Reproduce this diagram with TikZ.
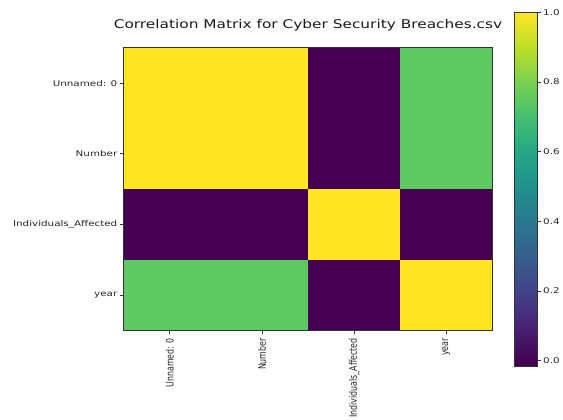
\documentclass[tikz,border=0pt]{standalone}
\usepackage{fontspec}
\setmainfont{DejaVu Sans}
\newfontfamily\widefont[FakeStretch=1.31]{DejaVu Sans}
\newfontfamily\titlefont[FakeStretch=1.28]{DejaVu Sans}

\definecolor{vhi}{HTML}{FDE725}
\definecolor{vlo}{HTML}{440154}
\definecolor{vmid}{RGB}{94,201,98}
\definecolor{vA}{HTML}{440154}
\definecolor{vB}{HTML}{482475}
\definecolor{vC}{HTML}{414487}
\definecolor{vD}{HTML}{355F8D}
\definecolor{vE}{HTML}{2A788E}
\definecolor{vF}{HTML}{21918C}
\definecolor{vG}{HTML}{22A884}
\definecolor{vH}{HTML}{44BF70}
\definecolor{vI}{HTML}{7AD151}
\definecolor{vJ}{HTML}{BDDF26}
\definecolor{vK}{HTML}{FDE725}
\pgfdeclareverticalshading{viridis}{100bp}{color(0bp)=(vA); color(25bp)=(vA);
  color(30bp)=(vB); color(35bp)=(vC); color(40bp)=(vD); color(45bp)=(vE);
  color(50bp)=(vF); color(55bp)=(vG); color(60bp)=(vH); color(65bp)=(vI);
  color(70bp)=(vJ); color(75bp)=(vK); color(100bp)=(vK)}

\begin{document}
\begin{tikzpicture}[x=1pt,y=-1pt,
  frame/.style={draw=black!80,line width=0.8pt},
  tickmark/.style={black!80,line width=0.8pt},
  ticklabel/.style={font=\widefont\fontsize{7.9}{9}\selectfont,text=black!85,inner sep=0pt},
  vlabel/.style={font=\fontsize{7.9}{9}\selectfont,text=black!85,inner sep=0pt,xscale=1.31,rotate=90,anchor=east}]
 \useasboundingbox (0,0) rectangle (563,420);

 \node[font=\titlefont\fontsize{12}{14}\selectfont,text=black!90,anchor=base,inner sep=0pt] (title) at (308,29)
  {Correlation Matrix for Cyber Security Breaches.csv};

 % matrix cells
 \foreach \row [count=\r from 0] in {{vhi,vhi,vlo,vmid},{vhi,vhi,vlo,vmid},{vlo,vlo,vhi,vlo},{vmid,vmid,vlo,vhi}} {
  \foreach \c [count=\k from 0] in \row {
   \fill[\c] (123.7+\k*92.15,47.7+\r*70.75) rectangle ++(92.15,70.75);
  }
 }
 \draw[frame] (123.7,47.7) rectangle (492.3,330.7);

 % ticks and labels
 \foreach \lbl [count=\i from 0] in {Unnamed: 0,Number,Individuals\_Affected,year} {
  \draw[tickmark] (123.7,83.1+\i*70.75) -- ++(-3.5,0);
  \node[ticklabel,anchor=east] (rowlbl\i) at (117.5,83.1+\i*70.75) {\lbl};
  \draw[tickmark] (169.8+\i*92.15,330.7) -- ++(0,3.5);
  \node[vlabel] (collbl\i) at (169.8+\i*92.15,338) {\lbl};
 }

 % colorbar
 \fill[vA] (514,366.7) rectangle (537.3,360.7);
 \shade[shading=viridis] (514,360.7) rectangle (537.3,12.3);
 \draw[frame] (514,366.7) rectangle (537.3,12.3);
 \foreach \v/\val in {0/0.0,2/0.2,4/0.4,6/0.6,8/0.8,10/1.0} {
  \draw[tickmark] (537.3,360.7-\v*34.84) -- ++(3.5,0);
  \node[ticklabel,anchor=west] (cbar\v) at (543,360.7-\v*34.84) {\val};
 }
\end{tikzpicture}
\end{document}
